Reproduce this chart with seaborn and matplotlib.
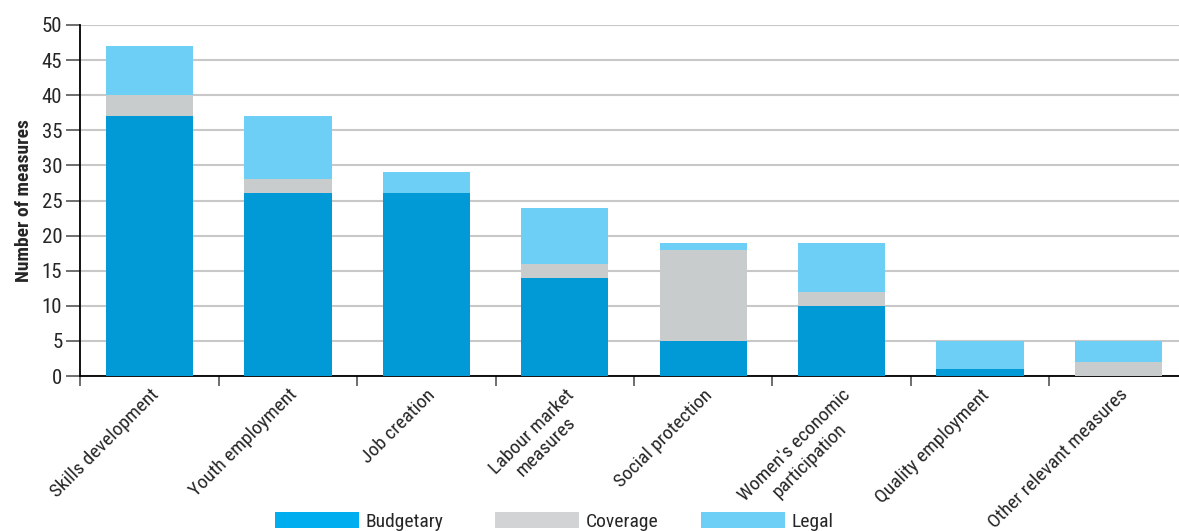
import matplotlib
matplotlib.use("Agg")
import matplotlib.pyplot as plt
from matplotlib.patches import Patch
import seaborn as sns
import pandas as pd
import numpy as np

categories = ["Skills development", "Youth employment", "Job creation",
              "Labour market\nmeasures", "Social protection",
              "Women's economic\nparticipation", "Quality employment",
              "Other relevant measures"]
budgetary = [37, 26, 26, 14, 5, 10, 1, 0]
coverage = [3, 2, 0, 2, 13, 2, 0, 2]
legal = [7, 9, 3, 8, 1, 7, 4, 3]
series_names = ["Budgetary", "Coverage", "Legal"]
y_ticks = [0, 5, 10, 15, 20, 25, 30, 35, 40, 45, 50]

sns.set_theme(style="white")
plt.rcParams['font.family'] = ['Roboto Condensed', 'Liberation Sans Narrow', 'Roboto', 'DejaVu Sans']

bar_colors = ["#0299D7", "#C9CCCD", "#6ECFF6"]
legend_colors = ["#00AEEF", "#D1D3D4", "#6ECFF6"]

df = pd.DataFrame({"category": categories, "Budgetary": budgetary,
                   "Coverage": coverage, "Legal": legal})
df["bc"] = df["Budgetary"] + df["Coverage"]
df["total"] = df["bc"] + df["Legal"]

W, H = 1179, 531
fig = plt.figure(figsize=(W / 100, H / 100), dpi=100)
left, right, bottom, top = 80.4, 80.4 + 8 * 138.4, 155, 506
ax = fig.add_axes([left / W, bottom / H, (right - left) / W, (top - bottom) / H])

for col, c in zip(["total", "bc", "Budgetary"], bar_colors[::-1]):
    sns.barplot(data=df, x="category", y=col, color=c, width=0.63,
                linewidth=0, saturation=1, ax=ax, zorder=3)

ax.set_xlim(-0.5, 7.5)
ax.set_ylim(0, 50)
ax.set_yticks(y_ticks)
ax.set_yticklabels([str(v) for v in y_ticks], fontsize=15)
ax.yaxis.grid(True, color="#C8C8C8", linewidth=1.5, zorder=0)
ax.set_axisbelow(True)

ax.set_xticks(range(len(categories)))
ax.set_xticklabels(categories, rotation=45, ha="right", rotation_mode="anchor",
                   fontsize=14, multialignment="center")
ax.set_xticks(np.arange(-0.5, 7.5, 1), minor=True)
ax.tick_params(axis="x", which="major", length=0, pad=7)
ax.tick_params(axis="x", which="minor", length=7, width=1.2, color="#555555",
               direction="out", bottom=True)
ax.tick_params(axis="y", length=10, width=1.2, color="#555555", direction="out",
               left=True, pad=3)

for s in ["top", "right"]:
    ax.spines[s].set_visible(False)
for s in ["left", "bottom"]:
    ax.spines[s].set_color("black")
    ax.spines[s].set_linewidth(1.3)

ax.set_xlabel("")
ax.set_ylabel("Number of measures", fontsize=14, fontweight="bold", labelpad=6)

legend_x = [275, 495, 701]
for name, c, lx in zip(series_names, legend_colors, legend_x):
    fig.legend([Patch(facecolor=c, edgecolor="none")], [name], loc="upper left",
               bbox_to_anchor=(lx / W, (H - 512) / H), frameon=False, fontsize=14,
               handlelength=4.3, handleheight=0.9, handletextpad=0.35,
               borderpad=0, borderaxespad=0)

fig.savefig("out.png", dpi=100)
